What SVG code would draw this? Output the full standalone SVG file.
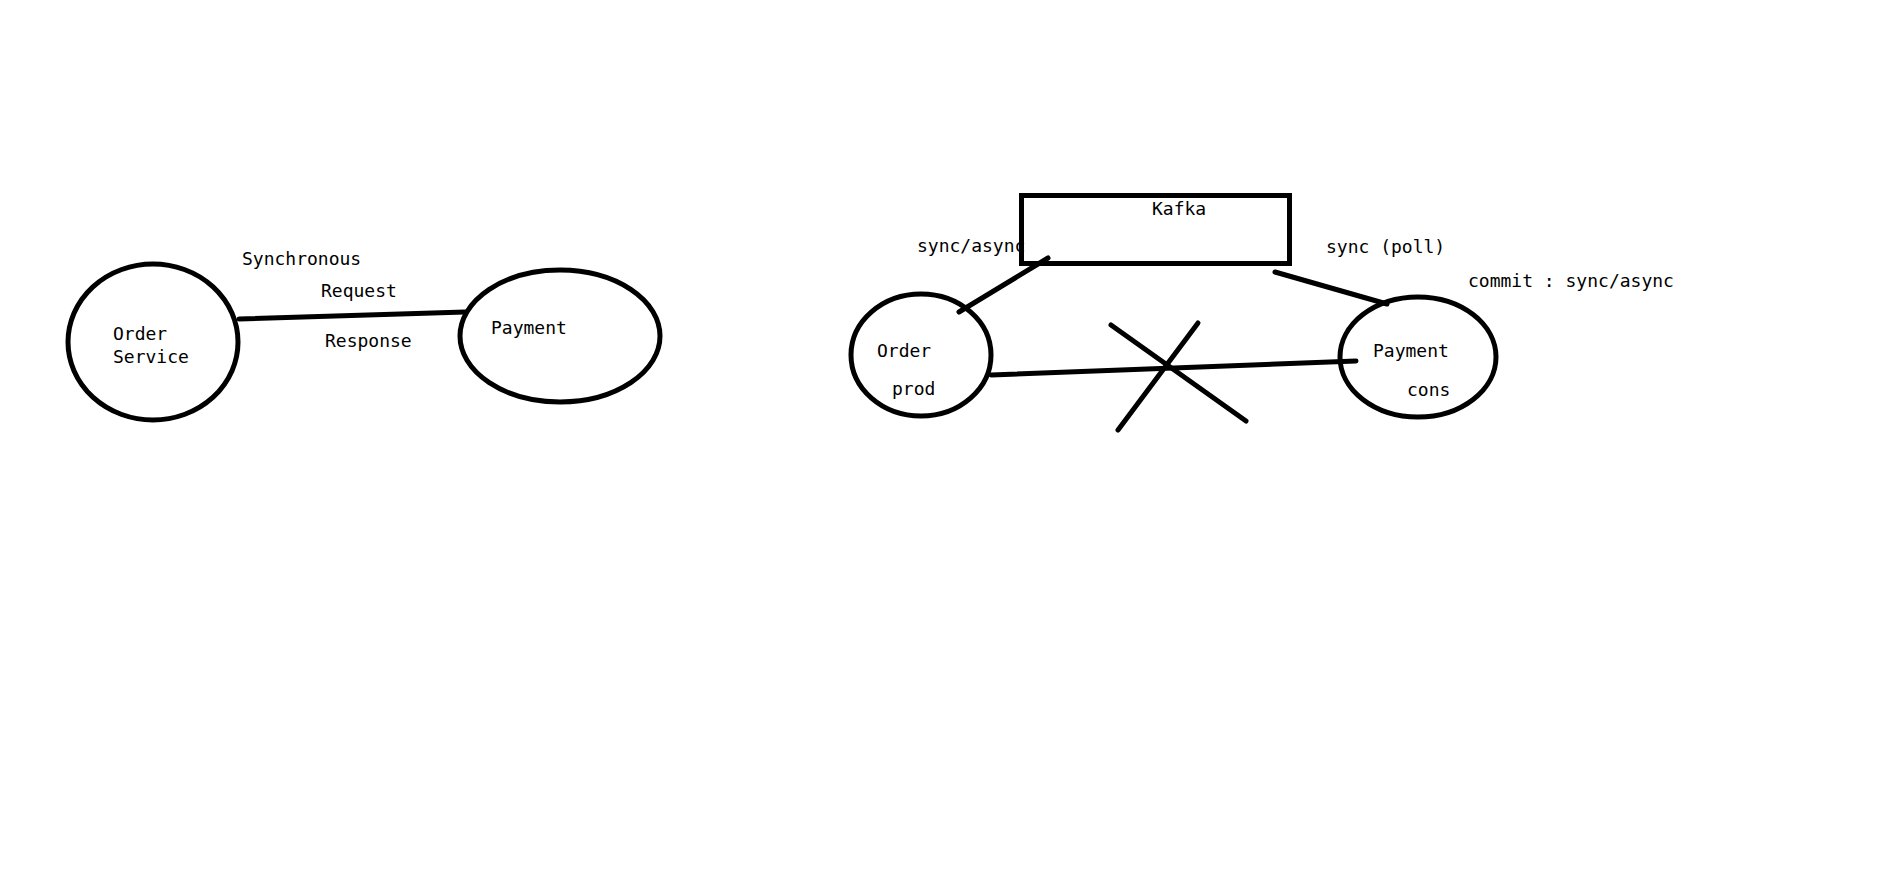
<svg xmlns="http://www.w3.org/2000/svg" width="1904" height="874" viewBox="0 0 1904 874">
<style>
.n{fill:none;stroke:#000;stroke-width:5}
.c{fill:none;stroke:#000;stroke-width:5;stroke-linecap:round}
text{font-family:"DejaVu Sans Mono","Liberation Mono",monospace;font-size:18px;fill:#000}
</style>
<rect width="1904" height="874" fill="#fff"/>
<g id="labels">
<text x="242" y="265">Synchronous</text>
<text x="321" y="297">Request</text>
<text x="325" y="347">Response</text>
<text x="917" y="252">sync/async</text>
<text x="1326" y="253">sync (poll)</text>
<text x="1468" y="287">commit : sync/async</text>
</g>
<g id="connectors">
<line class="c" x1="239" y1="319" x2="465" y2="312"/>
<line class="c" x1="959" y1="312" x2="1048" y2="258"/>
<line class="c" x1="1275" y1="272" x2="1387" y2="304"/>
<line class="c" x1="991" y1="375" x2="1356" y2="361"/>
<line class="c" x1="1111" y1="325" x2="1246" y2="421"/>
<line class="c" x1="1198" y1="323" x2="1118" y2="430"/>
</g>
<g id="order-service">
<ellipse class="n" cx="153" cy="342" rx="85" ry="78"/>
<text x="113" y="340">Order</text>
<text x="113" y="363">Service</text>
</g>
<g id="payment">
<ellipse class="n" cx="560" cy="336" rx="100" ry="66"/>
<text x="491" y="334">Payment</text>
</g>
<g id="kafka">
<rect class="n" x="1021.5" y="195.5" width="268" height="68"/>
<text x="1152" y="215">Kafka</text>
</g>
<g id="order-prod">
<ellipse class="n" cx="921" cy="355" rx="70" ry="61"/>
<text x="877" y="357">Order</text>
<text x="892" y="395">prod</text>
</g>
<g id="payment-cons">
<ellipse class="n" cx="1418" cy="357" rx="78" ry="60"/>
<text x="1373" y="357">Payment</text>
<text x="1407" y="396">cons</text>
</g>
</svg>
